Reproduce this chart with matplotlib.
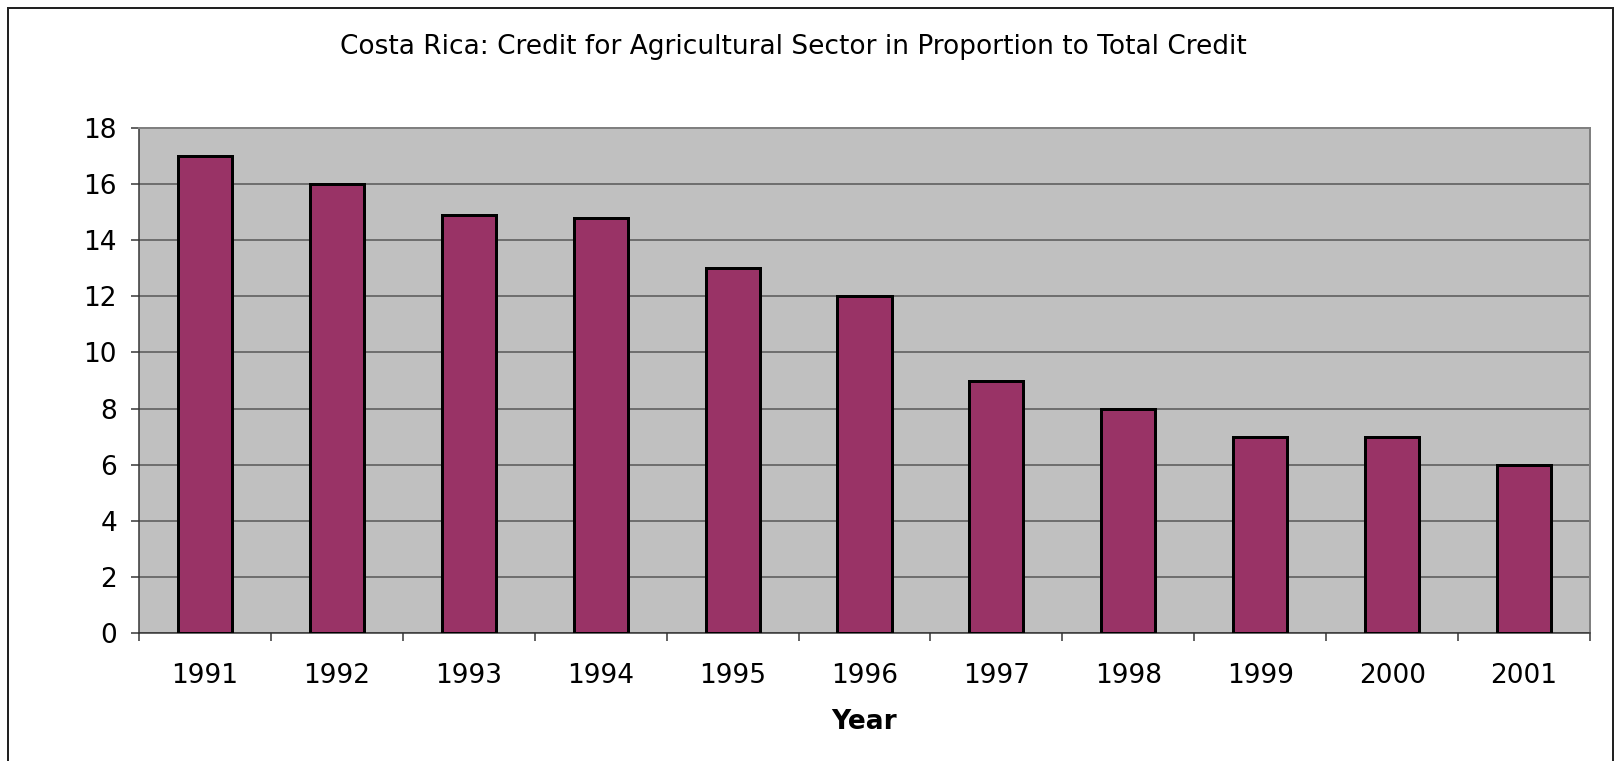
import numpy as np
import matplotlib.pyplot as plt
from matplotlib.patches import Rectangle
from matplotlib.ticker import FixedLocator

#%% data

years = ['1991', '1992', '1993', '1994', '1995', '1996',
         '1997', '1998', '1999', '2000', '2001']
share = [17, 16, 14.9, 14.8, 13, 12, 9, 8, 7, 7, 6]

#%% figure

W, H, DPI = 1619, 761, 100
px = 72 / DPI  # points per pixel
fs = 19

fig = plt.figure(figsize=(W / DPI, H / DPI), dpi=DPI)
ax = fig.add_axes([139 / W, 1 - 633 / H, (1590 - 139) / W, (633 - 128) / H])

x = np.arange(len(years))
ax.set_facecolor('#C0C0C0')
ax.bar(x, share, width=0.41, color='#993366', edgecolor='black',
       linewidth=3 * px, zorder=3)

ax.set_xlim(-0.5, len(years) - 0.5)
ax.set_ylim(0, 18)
ax.set_yticks(np.arange(0, 19, 2))
ax.yaxis.grid(True, color='#555555', linewidth=1.5 * px, zorder=1)

ax.set_xticks(x)
ax.set_xticklabels(years)
ax.xaxis.set_minor_locator(FixedLocator(np.arange(-0.5, len(years), 1)))
ax.tick_params(axis='x', which='major', length=0, pad=30 * px, labelsize=fs)
ax.tick_params(axis='x', which='minor', length=8 * px, width=1.5 * px,
               color='#333333')
ax.tick_params(axis='y', length=8 * px, width=1.5 * px, color='#333333',
               pad=14 * px, labelsize=fs)

for side in ['left', 'bottom']:
    ax.spines[side].set_color('#333333')
    ax.spines[side].set_linewidth(1.5 * px)
for side in ['top', 'right']:
    ax.spines[side].set_color('#808080')
    ax.spines[side].set_linewidth(2 * px)

ax.set_xlabel('Year', fontsize=fs, fontweight='bold', labelpad=20 * px)

fig.text(793 / W, 1 - 47 / H, 'Costa Rica: Credit for Agricultural Sector in Proportion to Total Credit',
         ha='center', va='center', fontsize=fs)

# outer chart border (bottom edge is cut off in the source image)
fig.patches.append(Rectangle((8 / W, -0.05), (1613 - 8) / W, 1.05 - 8 / H,
                             transform=fig.transFigure, fill=False,
                             edgecolor='#222222', linewidth=2 * px,
                             clip_on=False))

plt.savefig('out.png', dpi=DPI)
